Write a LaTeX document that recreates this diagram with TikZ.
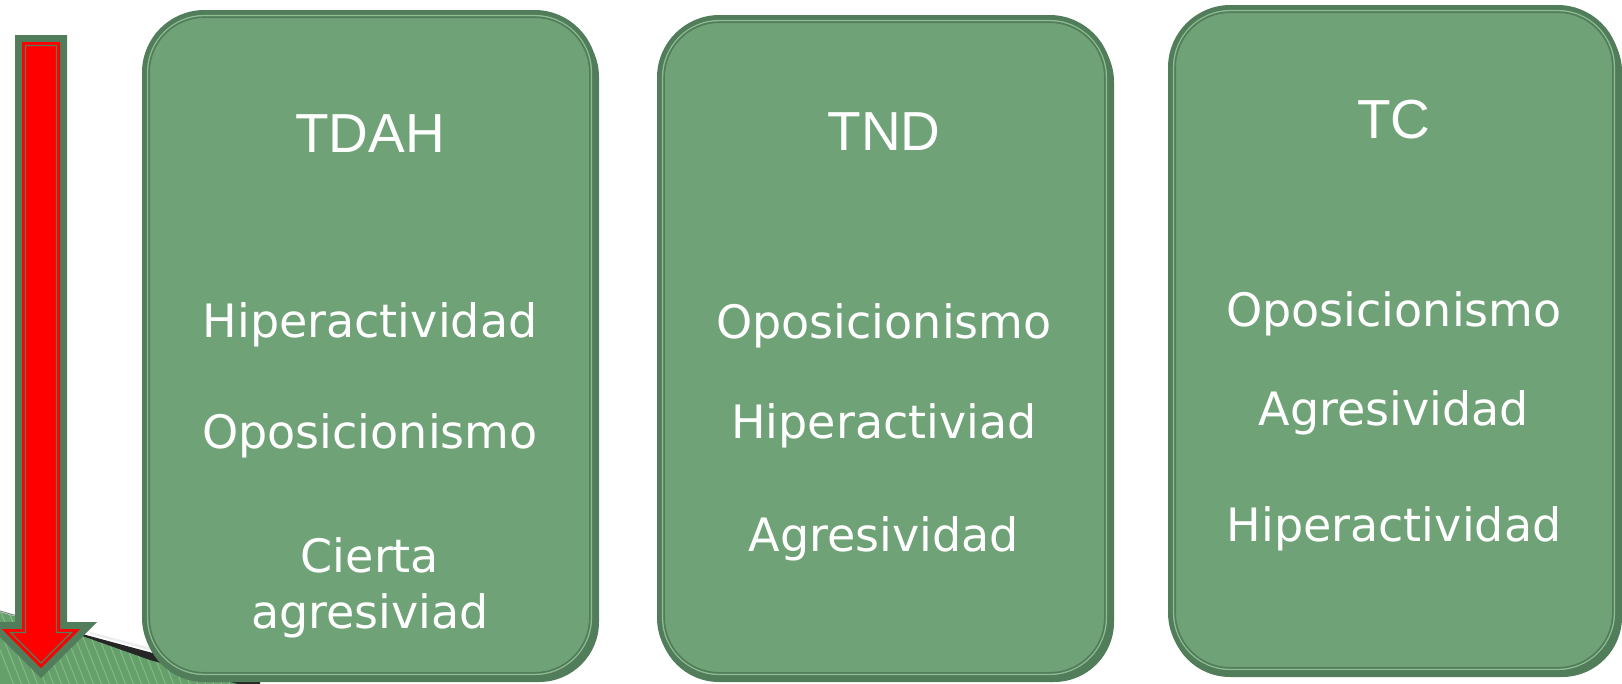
\documentclass[tikz,border=0pt]{standalone}
\usepackage{fontspec}
\setmainfont{DejaVu Sans}
\newfontfamily\titlefont{Liberation Sans}
\definecolor{boxgreen}{HTML}{70A277}
\definecolor{borderdark}{HTML}{527D5A}
\definecolor{lightline}{HTML}{8DBB92}
\definecolor{wedgegreen}{HTML}{65A06B}
\definecolor{stripegreen}{HTML}{86B98A}
\pgfdeclarelayer{bg}
\pgfsetlayers{bg,main}
\begin{document}
\begin{tikzpicture}[x=1pt,y=-1pt,
  gbox/.style={rectangle, rounded corners=60pt, fill=boxgreen, draw=borderdark,
    line width=5pt, inner sep=0pt, outer sep=0pt},
  shadowbox/.style={fill=borderdark, rounded corners=60pt},
  hiline/.style={draw=lightline, line width=1.2pt, rounded corners=57pt},
  loline/.style={draw=borderdark, line width=1.6pt, rounded corners=55pt},
  title/.style={font=\titlefont\fontsize{55}{60}\selectfont, text=white, anchor=base, inner sep=0pt},
  item/.style={font=\fontsize{46}{56}\selectfont, text=white, anchor=base, inner sep=0pt}]
\useasboundingbox (0,0) rectangle (1622,683);

% arrow
\fill[borderdark] (15,35) -- (67,35) -- (67,622) -- (97,622) -- (41,678) -- (-15,622) -- (15,622) -- cycle;
\fill[red] (22,42) -- (60,42) -- (60,629) -- (80,629) -- (41,668) -- (2,629) -- (22,629) -- cycle;
\draw[borderdark, line width=1.3pt, line join=miter] (25.5,45.5) -- (56.5,45.5) -- (56.5,632.5) -- (71.5,632.5) -- (41,663) -- (10.5,632.5) -- (25.5,632.5) -- cycle;

% boxes
\node[gbox, minimum width=450pt, minimum height=665pt] (b1) at (369.5,345) {};
\node[gbox, minimum width=450pt, minimum height=660pt] (b2) at (884.5,347.5) {};
\node[gbox, minimum width=447pt, minimum height=665pt] (b3) at (1394,340) {};
\foreach \b in {b1,b2,b3} {
  \draw[hiline] ([xshift=3pt,yshift=-3pt]\b.north west) rectangle ([xshift=-3pt,yshift=3pt]\b.south east);
  \draw[loline] ([xshift=4.7pt,yshift=-4.7pt]\b.north west) rectangle ([xshift=-4.7pt,yshift=4.7pt]\b.south east);
}

\begin{pgfonlayer}{bg}
% bottom-left decoration
\begin{scope}
  \clip (0,612) -- (260,686) -- (0,686) -- cycle;
  \fill[wedgegreen] (0,600) rectangle (300,690);
  \foreach \i in {-20,-12,...,300} {
    \draw[stripegreen, line width=1pt] (\i,600) -- ++(40,100);
  }
\end{scope}
\fill[black!85] (60,628) -- (260,682) -- (260,690) -- (150,660) -- cycle;
\fill[white!85!gray] (90,632) -- (260,676) -- (260,680) -- (90,634) -- cycle;
\draw[gray, line width=1pt] (0,611) -- (60,628);
% box shadows
\foreach \b in {b1,b2,b3} {
  \fill[shadowbox] ([xshift=-0.5pt,yshift=-4.5pt]\b.north west) rectangle ([xshift=4.5pt,yshift=-4.5pt]\b.south east);
}
\end{pgfonlayer}

% texts box 1
\node[title] (t1) at (370,152) {TDAH};
\node[item] (a1) at (370,337) {Hiperactividad};
\node[item] (a2) at (370,448) {Oposicionismo};
\node[item] (a3) at (370,572) {Cierta};
\node[item] (a4) at (370,628) {agresiviad};
% texts box 2
\node[title] (t2) at (884,150) {TND};
\node[item] (b2a) at (884,338) {Oposicionismo};
\node[item] (b2b) at (884,438) {Hiperactiviad};
\node[item] (b2c) at (884,551) {Agresividad};
% texts box 3
\node[title] (t3) at (1394,138) {TC};
\node[item] (c1) at (1394,326) {Oposicionismo};
\node[item] (c2) at (1394,425) {Agresividad};
\node[item] (c3) at (1394,541) {Hiperactividad};
\end{tikzpicture}
\end{document}
